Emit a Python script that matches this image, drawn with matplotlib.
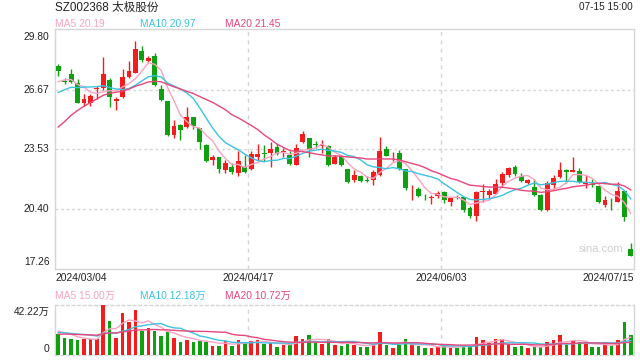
import numpy as np
import matplotlib
matplotlib.use('Agg')
import matplotlib.pyplot as plt

plt.rcParams['font.family'] = ['Liberation Sans', 'Noto Sans CJK SC', 'DejaVu Sans']

title = 'SZ002368 太极股份'
stamp = '07-15 15:00'
date_labels = ['2024/03/04', '2024/04/17', '2024/06/03', '2024/07/15']
date_index = [0, 30, 60, 89]
price_ticks = [17.26, 20.40, 23.53, 26.67, 29.80]
vol_max_label = 42.22
ma_names = ['MA5', 'MA10', 'MA20']
ma_price_values = [20.19, 20.97, 21.45]
ma_vol_values = [15.00, 12.18, 10.72]

opens = [27.93, 27.15, 27.51, 27.02, 25.97, 26.00, 26.72, 26.79, 27.20, 26.10,
         26.29, 27.37, 27.58, 28.72, 28.21, 28.47, 26.72, 26.09, 24.30, 24.83,
         24.71, 25.23, 24.64, 23.78, 22.95, 23.13, 22.43, 22.63, 22.29, 22.63,
         22.51, 23.13, 23.37, 23.37, 23.64, 23.41, 23.22, 22.72, 23.90, 24.13,
         23.81, 23.69, 23.72, 22.78, 23.20, 22.50, 21.90, 22.15, 21.94, 21.94,
         22.20, 23.57, 23.27, 23.34, 22.50, 21.48, 21.46, 21.05, 20.99, 21.06,
         21.30, 20.79, 21.03, 21.02, 20.44, 20.05, 21.29, 21.15, 21.20, 21.76,
         22.20, 22.60, 22.15, 21.76, 21.58, 21.15, 20.32, 21.67, 22.08, 22.46,
         22.37, 22.41, 21.72, 21.69, 21.62, 20.62, 20.79, 20.79, 21.32, 18.29]
highs = [28.04, 27.30, 27.77, 27.23, 26.46, 26.46, 26.88, 28.39, 27.27, 26.29,
         27.77, 28.16, 29.25, 28.98, 28.45, 28.60, 26.90, 26.10, 25.09, 24.85,
         25.76, 25.25, 24.66, 23.80, 23.25, 23.15, 22.95, 22.83, 23.43, 23.25,
         23.43, 23.83, 23.78, 23.90, 23.83, 23.60, 23.43, 23.83, 24.51, 24.15,
         24.00, 24.04, 23.74, 23.25, 23.25, 22.52, 22.46, 22.17, 22.15, 22.46,
         24.18, 23.69, 23.39, 23.48, 22.52, 21.66, 21.55, 21.20, 21.15, 21.36,
         21.36, 20.99, 21.15, 21.04, 20.57, 21.36, 21.73, 21.45, 22.00, 22.37,
         22.63, 22.72, 22.29, 21.97, 22.00, 21.17, 21.85, 22.20, 22.87, 22.48,
         23.16, 22.55, 22.20, 22.00, 21.64, 21.09, 20.97, 21.81, 21.34, 18.60]
lows = [27.41, 27.00, 27.02, 25.98, 25.83, 25.80, 26.20, 26.67, 25.79, 25.62,
        26.25, 27.28, 27.53, 28.11, 28.11, 26.88, 26.06, 24.25, 24.13, 24.04,
        24.65, 24.62, 23.55, 22.85, 22.69, 22.29, 22.29, 22.25, 22.11, 22.30,
        22.45, 22.95, 22.90, 22.60, 23.25, 23.11, 22.69, 22.70, 23.88, 23.13,
        23.60, 23.37, 22.67, 22.75, 22.67, 21.76, 21.81, 21.83, 21.80, 21.67,
        22.15, 23.18, 22.90, 22.45, 21.41, 20.88, 21.04, 20.88, 20.67, 20.97,
        20.71, 20.57, 20.90, 20.25, 19.90, 19.74, 20.79, 20.92, 21.18, 21.58,
        22.08, 22.16, 21.83, 21.70, 21.09, 20.27, 20.30, 21.45, 22.05, 21.76,
        22.35, 21.78, 21.50, 21.53, 20.71, 20.50, 20.32, 20.77, 19.79, 17.93]
closes = [27.68, 27.08, 27.09, 26.00, 26.20, 26.34, 26.78, 27.51, 26.29, 26.16,
          27.34, 27.67, 28.83, 28.25, 28.37, 26.93, 26.11, 24.27, 24.78, 24.57,
          25.23, 24.78, 23.90, 22.90, 23.13, 22.51, 22.81, 22.34, 22.93, 22.32,
          23.30, 23.30, 23.29, 23.55, 23.29, 23.45, 22.78, 23.60, 24.36, 23.51,
          23.78, 23.83, 22.69, 23.11, 22.69, 21.81, 22.20, 21.85, 21.85, 22.32,
          23.43, 23.20, 23.31, 22.50, 21.50, 21.52, 21.06, 21.01, 21.02, 21.24,
          20.85, 20.97, 21.00, 20.32, 20.01, 21.28, 21.34, 21.34, 21.73, 22.25,
          22.55, 22.25, 21.85, 21.90, 21.15, 20.36, 21.76, 22.02, 22.46, 22.32,
          22.46, 21.80, 21.81, 21.66, 20.79, 20.85, 20.74, 21.32, 19.97, 17.95]
volumes = [17.7, 14.6, 13.5, 12.7, 13.5, 13.2, 13.8, 42.22, 28.7, 14.4,
           35.5, 27.9, 38.0, 20.5, 22.8, 20.3, 16.3, 19.7, 14.6, 11.3,
           12.7, 11.3, 11.8, 11.3, 7.9, 7.6, 11.8, 7.6, 12.7, 10.1,
           11.8, 12.7, 9.6, 9.9, 7.0, 8.4, 9.0, 16.0, 13.5, 16.9,
           10.4, 9.3, 13.2, 8.4, 7.6, 10.7, 8.4, 6.8, 6.8, 9.0,
           19.4, 8.4, 5.6, 8.4, 13.5, 8.4, 7.6, 5.9, 5.9, 6.8,
           8.2, 6.2, 6.2, 8.2, 7.6, 15.2, 12.7, 10.4, 13.5, 13.5,
           9.3, 6.8, 7.6, 5.9, 6.8, 6.8, 11.0, 12.7, 16.9, 8.4,
           12.1, 11.0, 9.6, 6.8, 6.8, 10.4, 7.9, 12.7, 27.9, 16.9]
# closes / volumes of the 19 sessions before the window (needed for the moving averages)
hist_closes = [21.2, 20.6, 20.9, 21.8, 22.4, 23.0, 23.6, 24.3, 25.0, 26.1,
               25.6, 25.8, 26.2, 25.9, 26.3, 26.6, 27.0, 27.3, 26.9]
hist_volumes = [14, 15, 18, 17, 16, 19, 15, 17, 16, 16,
                17, 19, 18, 17, 18.5, 22, 20, 23, 18.8]

RED = '#f41c1c'
GREEN = '#0ea00e'
MA_COLORS = ['#f7a3c2', '#3cc2e2', '#e8467c']
GRID = '#d6d6d6'
W, H = 640, 360

def ma(series, hist, n):
    full = np.array(list(hist) + list(series), dtype=float)
    out = np.convolve(full, np.ones(n) / n, mode='valid')
    return out[-len(series):]

fig = plt.figure(figsize=(6.4, 3.6), dpi=100)
fig.patch.set_facecolor('white')

def fx(px):
    return px / W

def fy(py):
    return 1 - py / H

ax = fig.add_axes([fx(55), fy(269), fx(634) - fx(55), fy(29) - fy(269)])
axv = fig.add_axes([fx(55), fy(355), fx(634) - fx(55), fy(305) - fy(355)])

n = len(closes)
x = np.arange(n)
o = np.array(opens); c = np.array(closes); h = np.array(highs); l = np.array(lows)
up = c >= o
cols = np.where(up, RED, GREEN)

ax.vlines(x, l, h, colors=cols, linewidth=1.0, zorder=3)
body_bottom = np.minimum(o, c)
body_h = np.maximum(np.abs(c - o), 0.035)
ax.bar(x, body_h, bottom=body_bottom, width=0.76, color=cols, edgecolor=cols,
       linewidth=0.0, zorder=4)

for k, nper in enumerate([5, 10, 20]):
    ax.plot(x, ma(closes, hist_closes, nper), color=MA_COLORS[k], lw=1.0, zorder=5)

ax.set_xlim(-0.5, n - 0.5)
ax.set_ylim(17.24, 29.87)
ax.set_xticks([]); ax.set_yticks([])
for s in ax.spines.values():
    s.set_color(GRID); s.set_linewidth(1.0)
for t in price_ticks[1:-1]:
    ax.axhline(t, color=GRID, lw=1.0, ls=(0, (2, 2)), zorder=1)
for di in date_index[1:-1]:
    ax.axvline(di - 0.5, color=GRID, lw=1.0, ls=(0, (3, 3)), zorder=1)
    axv.axvline(di - 0.5, color=GRID, lw=1.0, ls=(0, (3, 3)), zorder=1)

for i, t in enumerate(price_ticks):
    va = 'top' if i == len(price_ticks) - 1 else ('bottom' if i == 0 else 'center')
    off = -1 if va == 'top' else (1 if va == 'bottom' else 0)
    ax.annotate(f'{t:.2f}', xy=(0, t), xycoords=('axes fraction', 'data'),
                xytext=(-4, off), textcoords='offset points', ha='right', va=va,
                fontsize=7.4, color='#222222')

for lab, di in zip(date_labels, date_index):
    ha = 'left' if di == 0 else ('right' if di == n - 1 else 'center')
    xx = -0.5 if di == 0 else (n - 0.5 if di == n - 1 else di - 0.5)
    ax.annotate(lab, xy=(xx, 0), xycoords=('data', 'axes fraction'),
                xytext=(0, -3), textcoords='offset points', ha=ha, va='top',
                fontsize=7.4, color='#222222')

ax.text(0.982, 0.085, 'sina.com', transform=ax.transAxes, ha='right', va='center',
        fontsize=8, color='#cfcfcf')

# volume panel
v = np.array(volumes)
axv.bar(x, v, width=0.55, color=cols, linewidth=0, zorder=3)
for k, nper in enumerate([5, 10, 20]):
    axv.plot(x, ma(volumes, hist_volumes, nper), color=MA_COLORS[k], lw=1.0, zorder=4)
axv.set_xlim(-0.5, n - 0.5)
axv.set_ylim(0, vol_max_label * 1.005)
axv.set_xticks([]); axv.set_yticks([])
for side, s in axv.spines.items():
    s.set_color(GRID); s.set_linewidth(1.0)
    if side in ('top', 'bottom'):
        s.set_linestyle((0, (2, 2)))
axv.annotate(f'{vol_max_label:.2f}万', xy=(0, vol_max_label), xycoords=('axes fraction', 'data'),
             xytext=(-4, -1), textcoords='offset points', ha='right', va='top',
             fontsize=7.4, color='#222222')
axv.annotate('0', xy=(0, 0), xycoords=('axes fraction', 'data'),
             xytext=(-4, 1), textcoords='offset points', ha='right', va='bottom',
             fontsize=7.4, color='#222222')

# header texts
fig.text(fx(55), fy(7.5), title, ha='left', va='center', fontsize=8.4, color='#222222')
fig.text(fx(633), fy(7.5), stamp, ha='right', va='center', fontsize=7.2, color='#222222')
legend_x = [55, 140, 225]
for k in range(3):
    fig.text(fx(legend_x[k]), fy(24), f'{ma_names[k]} {ma_price_values[k]:.2f}',
             ha='left', va='center', fontsize=7.4, color=MA_COLORS[k])
    fig.text(fx(legend_x[k]), fy(296), f'{ma_names[k]} {ma_vol_values[k]:.2f}万',
             ha='left', va='center', fontsize=7.4, color=MA_COLORS[k])

fig.savefig('out.png', dpi=100, facecolor='white')
